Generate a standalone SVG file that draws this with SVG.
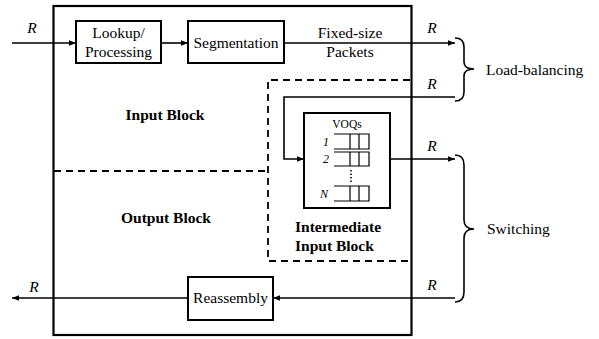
<svg xmlns="http://www.w3.org/2000/svg" width="599" height="339" viewBox="0 0 599 339">
<style>
text{font-family:'Liberation Serif','Times New Roman','DejaVu Serif',serif;font-size:15.5px;fill:#000}
.b{font-weight:bold}
.i{font-style:italic}
.box{fill:#fff;stroke:#000;stroke-width:2}
.ln{fill:none;stroke:#000;stroke-width:1.6}
.dash{fill:none;stroke:#000;stroke-width:1.8;stroke-dasharray:7,5}
.q{fill:none;stroke:#000;stroke-width:1.2}
</style>
<defs>
<marker id="ah" viewBox="0 0 10 10" refX="10" refY="5" markerWidth="7" markerHeight="7" markerUnits="userSpaceOnUse" orient="auto">
<path d="M0,1 L10,5 L0,9 Z" fill="#000"/>
</marker>
</defs>
<rect x="0" y="0" width="599" height="339" fill="#fff"/>
<g id="outer">
<rect x="53.5" y="6" width="358" height="329" fill="none" stroke="#000" stroke-width="2.2"/>
</g>
<g id="dashed-regions">
<path class="dash" d="M54,171 L268,171"/>
<path class="dash" d="M410,80 L268,80 L268,261 L410,261"/>
</g>
<g id="connectors">
<path class="ln" d="M12,43 L76,43" marker-end="url(#ah)"/>
<path class="ln" d="M161,43 L188,43" marker-end="url(#ah)"/>
<path class="ln" d="M284,43 L455,43" marker-end="url(#ah)"/>
<path class="ln" d="M455,97 L284,97 L284,159 L304,159" marker-end="url(#ah)"/>
<path class="ln" d="M390,159 L455,159" marker-end="url(#ah)"/>
<path class="ln" d="M455,298 L273,298" marker-end="url(#ah)"/>
<path class="ln" d="M188,298 L12,298" marker-end="url(#ah)"/>
</g>
<g font-family="Liberation Serif, serif">
<g id="lookup">
<rect class="box" x="76" y="21" width="85" height="42"/>
<text x="118.5" y="38" text-anchor="middle">Lookup/</text>
<text x="118.5" y="57" text-anchor="middle">Processing</text>
</g>
<g id="segmentation">
<rect class="box" x="188" y="21" width="96" height="42"/>
<text x="236" y="48" text-anchor="middle">Segmentation</text>
</g>
<g id="voq">
<rect class="box" x="304" y="113" width="86" height="95"/>
<text x="347" y="128" text-anchor="middle" style="font-size:11.5px">VOQs</text>
<path class="q" d="M334,134 H369 V149 H334 M350,134 V149 M359,134 V149"/>
<path class="q" d="M334,152 H369 V166 H334 M350,152 V166 M359,152 V166"/>
<path class="q" d="M334,186 H369 V201 H334 M350,186 V201 M359,186 V201"/>
<path d="M351,170 V183" stroke="#000" stroke-width="1.5" stroke-dasharray="1.5,2"/>
<text class="i" x="326" y="146" text-anchor="middle" style="font-size:12px">1</text>
<text class="i" x="326" y="163" text-anchor="middle" style="font-size:12px">2</text>
<text class="i" x="324" y="198" text-anchor="middle" style="font-size:12px">N</text>
</g>
<g id="reassembly">
<rect class="box" x="188" y="277" width="85" height="43"/>
<text x="230.5" y="303" text-anchor="middle">Reassembly</text>
</g>
<g id="labels">
<text class="i" x="32" y="33" text-anchor="middle">R</text>
<text class="i" x="432" y="33" text-anchor="middle">R</text>
<text class="i" x="432" y="89" text-anchor="middle">R</text>
<text class="i" x="432" y="151" text-anchor="middle">R</text>
<text class="i" x="432" y="290" text-anchor="middle">R</text>
<text class="i" x="34" y="292" text-anchor="middle">R</text>
<text x="350" y="38" text-anchor="middle">Fixed-size</text>
<text x="350" y="57" text-anchor="middle">Packets</text>
<text class="b" x="165" y="120" text-anchor="middle">Input Block</text>
<text class="b" x="166" y="223" text-anchor="middle">Output Block</text>
<text class="b" x="295" y="232">Intermediate</text>
<text class="b" x="295" y="251">Input Block</text>
<text x="486" y="75">Load-balancing</text>
<text x="487" y="234">Switching</text>
</g>
</g>
<g id="braces">
<path class="ln" d="M455,38 Q464,38 464,47 L464,62 Q464,69 474,69 Q464,69 464,76 L464,92 Q464,101 455,101"/>
<path class="ln" d="M455,155 Q464,155 464,165 L464,220 Q464,229 474,229 Q464,229 464,238 L464,292 Q464,302 455,302"/>
</g>
</svg>
